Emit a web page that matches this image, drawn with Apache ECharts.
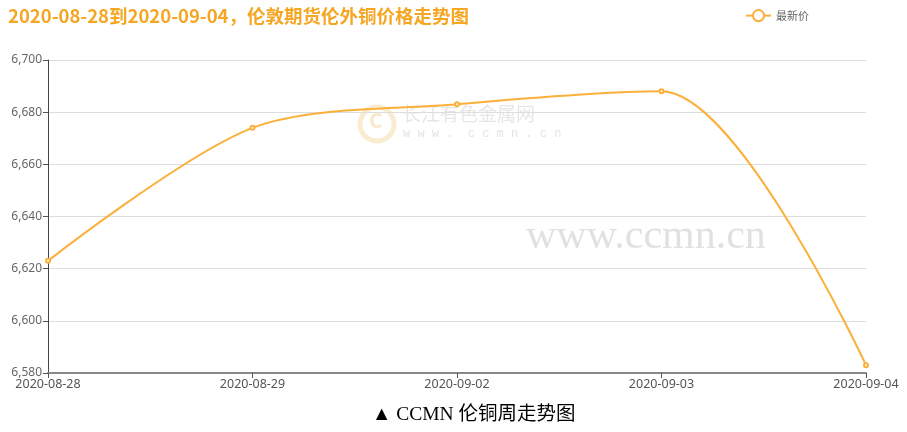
<!DOCTYPE html>
<html><head><meta charset="utf-8">
<script src="https://cdn.jsdelivr.net/npm/echarts@6/dist/echarts.min.js"></script>
<style>html,body{margin:0;padding:0;background:#fff}#c{width:907px;height:432px}</style>
</head><body><div id="c"></div>
<script>
var categories = ['2020-08-28','2020-08-29','2020-09-02','2020-09-03','2020-09-04'];
var prices = [6623, 6674, 6683, 6688, 6583];
var yTicks = [6580, 6600, 6620, 6640, 6660, 6680, 6700];
var titleText = '2020-08-28到2020-09-04，伦敦期货伦外铜价格走势图';
var seriesName = '最新价';
var caption = '▲ CCMN 伦铜周走势图';

var chart = echarts.init(document.getElementById('c'));
chart.setOption({
  animation: false,
  title: {text: titleText, left: 3, top: 2,
    textStyle: {color: '#f5a623', fontSize: 18.5, fontWeight: 'bold', fontFamily: 'Noto Sans CJK SC'}},
  legend: {data: [seriesName], top: 4, left: 740, itemWidth: 25, itemHeight: 14,
    textStyle: {color: '#666', fontSize: 11, fontFamily: 'Noto Sans CJK SC'}},
  grid: {left: 48, right: 41, top: 60, bottom: 59},
  xAxis: {type: 'category', data: categories, boundaryGap: false,
    axisLine: {lineStyle: {color: '#888', width: 2}},
    axisTick: {lineStyle: {color: '#555'}},
    axisLabel: {color: '#555', fontSize: 12.5, fontFamily: 'Noto Sans', margin: 5,
      showMinLabel: true, showMaxLabel: true, interval: 0}},
  yAxis: {type: 'value', min: yTicks[0], max: yTicks[yTicks.length-1], interval: 20,
    axisLine: {show: true, lineStyle: {color: '#444'}},
    axisTick: {show: true, lineStyle: {color: '#555'}},
    axisLabel: {color: '#666', fontSize: 12, fontFamily: 'Noto Sans', margin: 6,
      formatter: function(v){return v.toLocaleString('en-US');}},
    splitLine: {lineStyle: {color: '#ddd'}}},
  graphic: [
    {type: 'circle', shape: {cx: 377, cy: 124, r: 17}, style: {fill: 'none', stroke: 'rgba(240,200,120,0.35)', lineWidth: 5}, z: 0},
    {type: 'text', left: 369, top: 112, style: {text: 'C', fill: 'rgba(240,200,120,0.4)', font: 'bold 21px Noto Sans'}, z: 0},
    {type: 'text', left: 402, top: 104, style: {text: '长江有色金属网', fill: 'rgba(200,200,200,0.45)', font: '19px Noto Sans CJK SC'}, z: 0},
    {type: 'text', left: 403, top: 128, style: {text: 'w w w .  c c m n . c n', fill: 'rgba(200,200,200,0.5)', font: '12px Liberation Mono'}, z: 0},
    {type: 'text', left: 526, top: 216, style: {text: 'www.ccmn.cn', fill: 'rgba(195,195,195,0.5)', font: '42px Liberation Serif'}, z: 0},
    {type: 'text', left: 372, top: 405, style: {text: caption, fill: '#000', font: '19.5px "Liberation Serif", "Noto Sans CJK SC"'}}
  ],
  series: [{
    name: seriesName, type: 'line', data: prices, smooth: 0.3,
    symbol: 'emptyCircle', symbolSize: 4,
    itemStyle: {color: '#fbb03b'},
    lineStyle: {color: '#fbb03b', width: 2}
  }]
});
</script></body></html>
